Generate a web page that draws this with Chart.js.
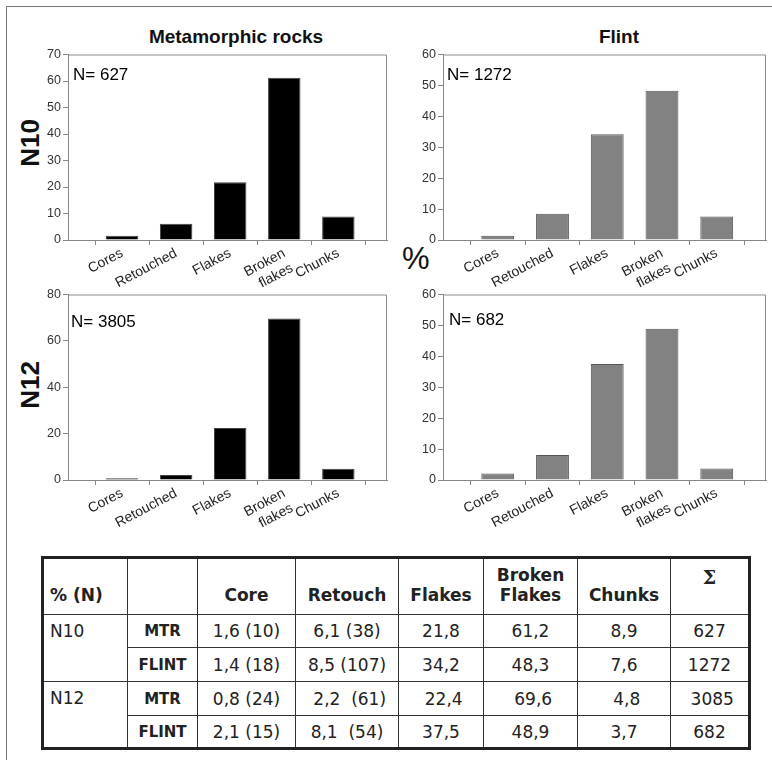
<!DOCTYPE html>
<html>
<head>
<meta charset="utf-8">
<script src="https://cdn.jsdelivr.net/npm/chart.js@4.4.1/dist/chart.umd.min.js"></script>
<style>
  body { margin: 0; background: #fff; width: 772px; height: 760px; position: relative; overflow: hidden;
         font-family: "Liberation Sans", Arial, sans-serif; }
  #frame { position: absolute; left: 6px; top: 6px; width: 800px; height: 800px;
           border-left: 1px solid #777; border-top: 1px solid #777; }
  .box { position: absolute; }
  .ttl { position: absolute; width: 300px; text-align: center; font-size: 19px; font-weight: bold; line-height: 22px; color: #111; }
  .side { position: absolute; font-weight: bold; font-size: 26px; line-height: 26px; color: #111;
          width: 60px; text-align: center; transform: rotate(-90deg); }
  #pct { position: absolute; left: 402px; top: 243px; font-size: 31px; line-height: 32px; color: #111; }
  table { position: absolute; left: 41px; top: 556px; border-collapse: collapse; border: 3px solid #222;
          font-family: "DejaVu Sans", Verdana, sans-serif; font-size: 17px; color: #222; table-layout: fixed; }
  td { border: 1px solid #333; padding: 0; text-align: center; white-space: pre; }
  thead td { font-weight: bold; vertical-align: bottom; padding-bottom: 9px; }
  td.first { text-align: left; padding-left: 6px; }
  td.kind { font-weight: bold; font-size: 15px; }
  td.sigma { vertical-align: top; padding-top: 7px; font-family: "DejaVu Serif", serif; font-size: 19px; }
</style>
</head>
<body>
<div id="frame"></div>
<div class="ttl" style="left:86px;top:26px;">Metamorphic rocks</div>
<div class="ttl" style="left:469px;top:26px;">Flint</div>
<div class="side" style="left:0px;top:130px;">N10</div>
<div class="side" style="left:0px;top:372px;">N12</div>
<div id="pct">%</div>

<div class="box" style="left:38px;top:45px;width:351px;height:243px;"><canvas id="c1"></canvas></div>
<div class="box" style="left:413px;top:45px;width:355px;height:243px;"><canvas id="c2"></canvas></div>
<div class="box" style="left:38px;top:285px;width:351px;height:243px;"><canvas id="c3"></canvas></div>
<div class="box" style="left:413px;top:285px;width:355px;height:243px;"><canvas id="c4"></canvas></div>

<table id="tbl"></table>

<script>
// categories and percentages per group
const categories = ['Cores', 'Retouched', 'Flakes', 'Broken flakes', 'Chunks'];
const mtrN10 = [1.6, 6.1, 21.8, 61.2, 8.9];
const flintN10 = [1.4, 8.5, 34.2, 48.3, 7.6];
const mtrN12 = [0.8, 2.2, 22.4, 69.6, 4.8];
const flintN12 = [2.1, 8.1, 37.5, 48.9, 3.7];
const sampleSizes = ['N= 627', 'N= 1272', 'N= 3805', 'N= 682'];
const yMaxes = [70, 60, 80, 60];
const ySteps = [10, 10, 20, 10];

// table
const tableHead = ['% (N)', '', 'Core', 'Retouch', 'Flakes', 'Broken\nFlakes', 'Chunks', 'Σ'];
const tableRows = [
  ['N10', 'MTR', '1,6 (10)', '6,1 (38)', '21,8', '61,2', '8,9', '627'],
  ['', 'FLINT', '1,4 (18)', '8,5 (107)', '34,2', '48,3', '7,6', '1272'],
  ['N12', 'MTR', '0,8 (24)', ' 2,2  (61)', ' 22,4', ' 69,6', ' 4,8', ' 3085'],
  ['', 'FLINT', '2,1 (15)', '8,1  (54)', '37,5', '48,9', '3,7', '682']
];
const colWidths = [85, 70, 98, 103, 85, 94, 93, 79];
const rowHeights = [33, 34, 34, 33];

Chart.defaults.font.family = '"Liberation Sans", Arial, sans-serif';
Chart.defaults.color = '#222';

// N= label in the top-left corner, plus top/right frame of the plot area
const plotExtras = {
  id: 'plotExtras',
  afterDraw(chart, args, opts) {
    const a = chart.chartArea, ctx = chart.ctx;
    ctx.save();
    ctx.strokeStyle = '#8a8a8a';
    ctx.lineWidth = 1;
    ctx.beginPath();
    ctx.moveTo(a.left, a.top + 0.5);
    ctx.lineTo(a.right - 0.5, a.top + 0.5);
    ctx.lineTo(a.right - 0.5, a.bottom);
    ctx.stroke();
    ctx.fillStyle = '#000';
    ctx.font = '17px "Liberation Sans", Arial, sans-serif';
    ctx.fillText(opts.text, a.left + opts.dx, a.top + opts.dy);
    ctx.restore();
  }
};

function makeChart(id, values, yMax, yStep, fill, edge, nText, dx, dy) {
  new Chart(document.getElementById(id), {
    type: 'bar',
    data: {
      datasets: [{
        data: values.map((v, i) => ({ x: i + 1, y: v })),
        backgroundColor: fill,
        borderColor: edge,
        borderWidth: 1,
        categoryPercentage: 1,
        barPercentage: 0.6
      }]
    },
    options: {
      responsive: true,
      maintainAspectRatio: false,
      animation: false,
      layout: { padding: { top: 6, right: 2, left: 0, bottom: 0 } },
      plugins: {
        legend: { display: false },
        tooltip: { enabled: false },
        plotExtras: { text: nText, dx: dx, dy: dy }
      },
      scales: {
        x: {
          type: 'linear',
          min: 0,
          max: 5.9,
          offset: false,
          afterFit: s => { s.height = 48; },
          grid: { drawOnChartArea: false, drawTicks: true, tickLength: 5, color: '#888' },
          border: { color: '#888' },
          ticks: {
            stepSize: 1,
            includeBounds: false,
            autoSkip: false,
            minRotation: 28,
            maxRotation: 28,
            padding: 0,
            color: '#222',
            font: { size: 14 },
            callback: v => {
              if (!Number.isInteger(v) || v < 1 || v > categories.length) return '';
              const lab = categories[v - 1];
              return lab.includes(' ') ? lab.split(' ') : lab;
            }
          }
        },
        y: {
          min: 0,
          max: yMax,
          afterFit: s => { s.width = 30; },
          grid: { drawOnChartArea: false, drawTicks: true, tickLength: 5, color: '#888' },
          border: { color: '#888' },
          ticks: { stepSize: yStep, padding: 2, color: '#333', font: { size: 12.5 } }
        }
      }
    },
    plugins: [plotExtras]
  });
}

makeChart('c1', mtrN10, yMaxes[0], ySteps[0], '#000', '#444', sampleSizes[0], 5, 25);
makeChart('c2', flintN10, yMaxes[1], ySteps[1], '#828282', '#555', sampleSizes[1], 4, 25);
makeChart('c3', mtrN12, yMaxes[2], ySteps[2], '#000', '#444', sampleSizes[2], 3, 32);
makeChart('c4', flintN12, yMaxes[3], ySteps[3], '#828282', '#555', sampleSizes[3], 6, 30);

// build the table
const tbl = document.getElementById('tbl');
const colgroup = document.createElement('colgroup');
colWidths.forEach(w => { const c = document.createElement('col'); c.style.width = w + 'px'; colgroup.appendChild(c); });
tbl.appendChild(colgroup);
const thead = document.createElement('thead');
const hr = document.createElement('tr');
hr.style.height = '57px';
tableHead.forEach((h, i) => {
  const td = document.createElement('td');
  td.textContent = h;
  if (i === 0) td.className = 'first';
  if (i === tableHead.length - 1) td.className = 'sigma';
  hr.appendChild(td);
});
thead.appendChild(hr);
tbl.appendChild(thead);
const tbody = document.createElement('tbody');
tableRows.forEach((row, r) => {
  const tr = document.createElement('tr');
  tr.style.height = rowHeights[r] + 'px';
  row.forEach((cell, i) => {
    if (i === 0) {
      if (r % 2 === 1) return;
      const td = document.createElement('td');
      td.textContent = cell;
      td.rowSpan = 2;
      td.className = 'first';
      td.style.verticalAlign = 'top';
      td.style.paddingTop = '6px';
      tr.appendChild(td);
      return;
    }
    const td = document.createElement('td');
    td.textContent = cell;
    if (i === 1) td.className = 'kind';
    tr.appendChild(td);
  });
  tbody.appendChild(tr);
});
tbl.appendChild(tbody);
</script>
</body>
</html>
